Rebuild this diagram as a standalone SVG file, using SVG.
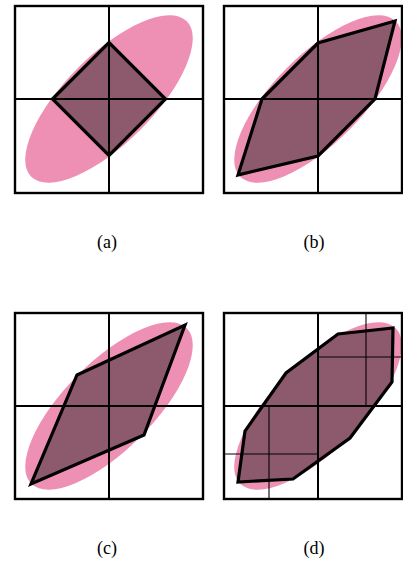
<svg xmlns="http://www.w3.org/2000/svg" width="403" height="566" viewBox="0 0 403 566">
<style>
.bg{fill:#ffffff}
.ell{fill:#ee90b4;stroke:none}
.poly{fill:#8d5a6d;stroke:none}
.edge{fill:none;stroke:#000;stroke-width:3.2;stroke-linejoin:miter}
.box{fill:none;stroke:#000;stroke-width:2.4}
.grid{stroke:#000;stroke-width:2}
.thin{stroke:#000;stroke-width:1.1}
.lbl{font-family:"Liberation Serif","Times New Roman",serif;font-size:18px;fill:#000;text-anchor:middle}
</style>
<rect class="bg" x="0" y="0" width="403" height="566"/>
<g id="panel-a">
  <ellipse class="ell" cx="109" cy="99" rx="110" ry="44" transform="rotate(-45 109 99)"/>
  <polygon class="poly" points="52.5,99 109,42.5 165.5,99 109,155.5"/>
  <line class="grid" x1="109" y1="6" x2="109" y2="193"/>
  <line class="grid" x1="15" y1="99" x2="203" y2="99"/>
  <polygon class="edge" points="52.5,99 109,42.5 165.5,99 109,155.5"/>
  <rect class="box" x="15" y="6" width="188" height="187"/>
  <text class="lbl" x="107" y="248">(a)</text>
</g>
<g id="panel-b">
  <ellipse class="ell" cx="318" cy="99" rx="110" ry="44" transform="rotate(-45 318 99)"/>
  <polygon class="poly" points="262,99 318,43 395,21 375,99 318,156 238,175"/>
  <line class="grid" x1="318" y1="6" x2="318" y2="193"/>
  <line class="grid" x1="224" y1="99" x2="402" y2="99"/>
  <polygon class="edge" points="262,99 318,43 395,21 375,99 318,156 238,175"/>
  <rect class="box" x="224" y="6" width="178" height="187"/>
  <text class="lbl" x="314" y="248">(b)</text>
</g>
<g id="panel-c">
  <ellipse class="ell" cx="109" cy="406" rx="110" ry="44" transform="rotate(-45 109 406)"/>
  <polygon class="poly" points="77,375 185,325 144,435 31,484"/>
  <line class="grid" x1="109" y1="313" x2="109" y2="499"/>
  <line class="grid" x1="15" y1="406" x2="203" y2="406"/>
  <polygon class="edge" points="77,375 185,325 144,435 31,484"/>
  <rect class="box" x="15" y="313" width="188" height="186"/>
  <text class="lbl" x="107" y="554">(c)</text>
</g>
<g id="panel-d">
  <ellipse class="ell" cx="318" cy="406" rx="110" ry="44" transform="rotate(-45 318 406)"/>
  <polygon class="poly" points="238,482 245,431 286,373 338,334 393,328 392,382 350,438 293,479"/>
  <line class="thin" x1="366" y1="313" x2="366" y2="406"/>
  <line class="thin" x1="269" y1="406" x2="269" y2="499"/>
  <line class="thin" x1="318" y1="357" x2="402" y2="357"/>
  <line class="thin" x1="224" y1="454" x2="318" y2="454"/>
  <line class="grid" x1="318" y1="313" x2="318" y2="499"/>
  <line class="grid" x1="224" y1="406" x2="402" y2="406"/>
  <polygon class="edge" points="238,482 245,431 286,373 338,334 393,328 392,382 350,438 293,479"/>
  <rect class="box" x="224" y="313" width="178" height="186"/>
  <text class="lbl" x="314" y="554">(d)</text>
</g>
</svg>
